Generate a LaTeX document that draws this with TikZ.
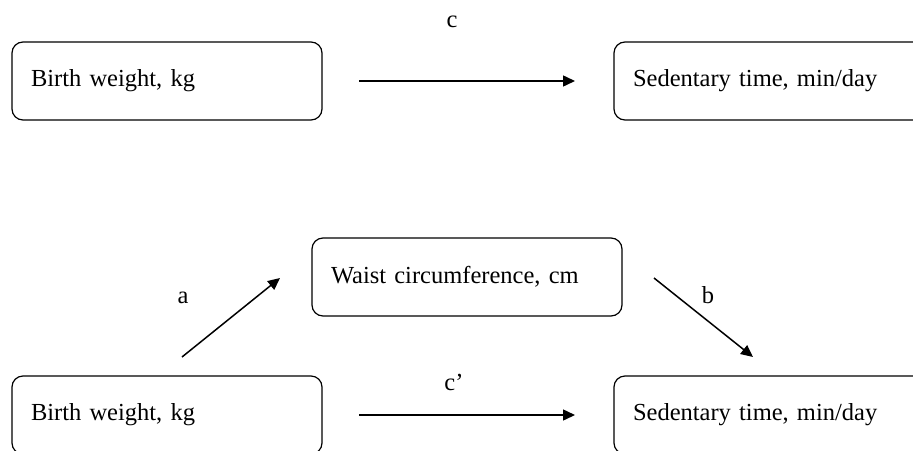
\documentclass[tikz,border=0pt]{standalone}
\usepackage{fontspec}
\setmainfont{Liberation Serif}
\usetikzlibrary{arrows.meta}
\tikzset{
  varbox/.style={draw, line width=1.2pt, rounded corners=11pt, anchor=north west,
    minimum height=78pt, inner xsep=19pt, inner ysep=0pt, outer sep=0pt,
    align=left, font=\fontsize{24.5}{29}\selectfont},
  lbl/.style={font=\fontsize{24.5}{29}\selectfont, inner sep=0pt},
  arr/.style={line width=1.5pt, -{Triangle[length=12pt,width=11pt]}}
}
\begin{document}
\begin{tikzpicture}[x=1pt,y=-1pt]
\useasboundingbox (0,0) rectangle (913,450);
\clip (0,0) rectangle (913,450);
% top row
\node[varbox, text width=272pt] (tl) at (12,42) {Birth weight, kg};
\node[varbox, text width=300pt] (tr) at (614,42) {Sedentary time, min/day};
\draw[arr, shorten <=37pt, shorten >=39pt] (tl.east) -- (tr.west);
\node[lbl] (lc) at (452,22) {c};
% bottom
\node[varbox, text width=272pt] (w) at (312,238) {Waist circumference, cm};
\node[varbox, text width=272pt] (bl) at (12,376) {Birth weight, kg};
\node[varbox, text width=300pt] (br) at (614,376) {Sedentary time, min/day};
\coordinate (a1) at (182,357);
\coordinate (a2) at (280,278);
\coordinate (b1) at (654,278);
\coordinate (b2) at (753,357);
\draw[arr] (a1) -- (a2);
\draw[arr] (b1) -- (b2);
\draw[arr, shorten <=37pt, shorten >=39pt] (bl.east) -- (br.west);
\node[lbl] (la) at (183,298) {a};
\node[lbl] (lb) at (708,295) {b};
\node[lbl] (lcp) at (454,382) {c’};
\end{tikzpicture}
\end{document}
